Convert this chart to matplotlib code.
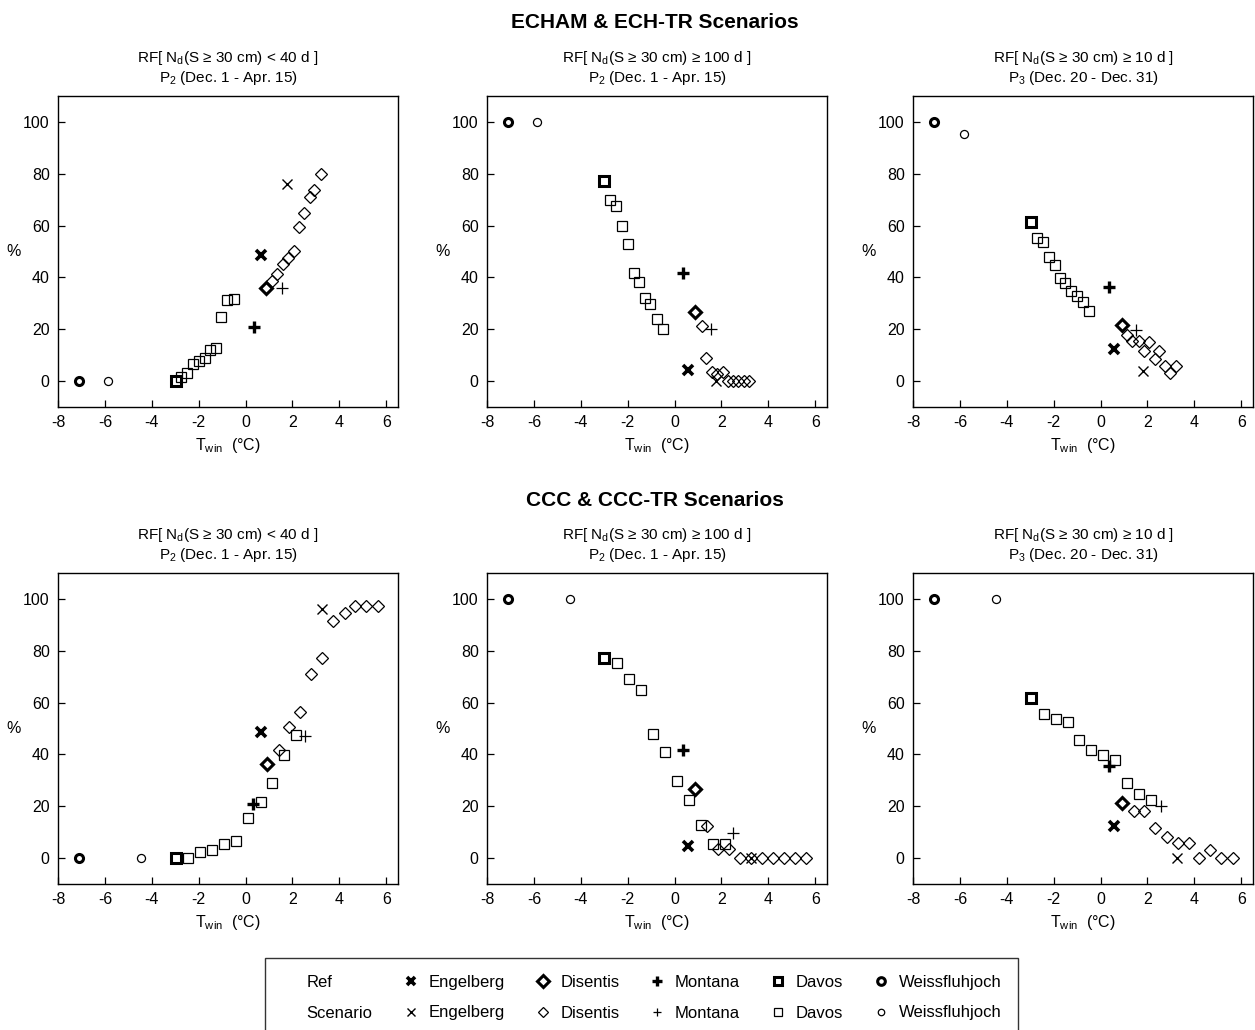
import matplotlib
matplotlib.use("Agg")
import matplotlib.pyplot as plt
from matplotlib.lines import Line2D

plt.rcParams["font.family"] = ["Liberation Sans", "DejaVu Sans"]
plt.rcParams["mathtext.fontset"] = "custom"
plt.rcParams["mathtext.rm"] = "Liberation Sans"
plt.rcParams["mathtext.it"] = "Liberation Sans:italic"
plt.rcParams["mathtext.default"] = "regular"
plt.rcParams["axes.unicode_minus"] = False

STATIONS = ["Engelberg", "Disentis", "Montana", "Davos", "Weissfluhjoch"]

# ---- ECHAM & ECH-TR ----
# a) RF[Nd < 40 d], P2
ea_ref_x = [0.64, 0.88, 0.34, -2.98, -7.12]
ea_ref_y = [48.5, 36.0, 20.8, 0.0, 0.0]
ea_eng_x, ea_eng_y = [1.76], [76.2]
ea_mon_x, ea_mon_y = [1.55], [35.8]
ea_wei_x, ea_wei_y = [-5.87], [0.0]
ea_dav_x = [-2.74, -2.50, -2.24, -1.99, -1.73, -1.53, -1.28, -1.04, -0.78, -0.50]
ea_dav_y = [1.5, 3.2, 6.4, 7.9, 8.8, 12.0, 12.8, 24.8, 31.2, 31.7]
ea_dis_x = [1.14, 1.35, 1.61, 1.82, 2.06, 2.28, 2.47, 2.73, 2.93, 3.20]
ea_dis_y = [38.7, 41.5, 45.0, 47.6, 50.3, 59.6, 65.0, 71.0, 73.7, 79.8]

# b) RF[Nd >= 100 d], P2
eb_ref_x = [0.59, 0.88, 0.36, -3.00, -7.11]
eb_ref_y = [4.2, 26.5, 41.7, 77.1, 100.0]
eb_eng_x, eb_eng_y = [1.75], [0.0]
eb_mon_x, eb_mon_y = [1.54], [20.2]
eb_wei_x, eb_wei_y = [-5.86], [100.0]
eb_dav_x = [-2.76, -2.49, -2.25, -1.99, -1.74, -1.52, -1.27, -1.03, -0.76, -0.50]
eb_dav_y = [69.9, 67.6, 59.8, 52.9, 41.8, 38.2, 32.2, 29.9, 23.9, 20.2]
eb_dis_x = [1.15, 1.33, 1.58, 1.80, 2.06, 2.27, 2.51, 2.72, 2.95, 3.19]
eb_dis_y = [21.4, 9.0, 3.5, 2.8, 3.5, 0.0, 0.0, 0.0, 0.0, 0.0]

# c) RF[Nd >= 10 d], P3
ec_ref_x = [0.58, 0.92, 0.34, -2.95, -7.10]
ec_ref_y = [12.3, 21.5, 36.2, 61.5, 100.0]
ec_eng_x, ec_eng_y = [1.80], [3.8]
ec_mon_x, ec_mon_y = [1.53], [19.7]
ec_wei_x, ec_wei_y = [-5.82], [95.5]
ec_dav_x = [-2.73, -2.47, -2.22, -1.95, -1.71, -1.51, -1.27, -0.99, -0.73, -0.49]
ec_dav_y = [55.4, 53.6, 47.7, 44.9, 39.7, 37.9, 34.6, 32.8, 30.5, 26.9]
ec_dis_x = [1.14, 1.33, 1.65, 1.84, 2.08, 2.30, 2.49, 2.75, 2.95, 3.20]
ec_dis_y = [17.8, 15.3, 15.3, 11.8, 15.1, 8.5, 11.8, 5.8, 3.1, 5.8]

# ---- CCC & CCC-TR ----
ca_ref_x = [0.67, 0.90, 0.30, -2.98, -7.12]
ca_ref_y = [48.7, 36.2, 20.8, 0.0, 0.0]
ca_eng_x, ca_eng_y = [3.26], [96.0]
ca_mon_x, ca_mon_y = [2.53], [47.1]
ca_wei_x, ca_wei_y = [-4.48], [0.0]
ca_dav_x = [-2.44, -1.95, -1.43, -0.91, -0.41, 0.10, 0.64, 1.12, 1.64, 2.13]
ca_dav_y = [0.0, 2.2, 3.2, 5.5, 6.4, 15.3, 21.5, 29.0, 39.6, 47.6]
ca_dis_x = [1.41, 1.86, 2.32, 2.79, 3.28, 3.74, 4.22, 4.68, 5.13, 5.66]
ca_dis_y = [41.7, 50.6, 56.4, 71.2, 77.3, 91.5, 94.7, 97.4, 97.4, 97.4]

cb_ref_x = [0.59, 0.88, 0.36, -3.00, -7.11]
cb_ref_y = [4.5, 26.5, 41.6, 77.2, 100.0]
cb_eng_x, cb_eng_y = [3.25], [0.0]
cb_mon_x, cb_mon_y = [2.51], [9.7]
cb_wei_x, cb_wei_y = [-4.46], [100.0]
cb_dav_x = [-2.45, -1.94, -1.42, -0.91, -0.40, 0.09, 0.60, 1.11, 1.62, 2.13]
cb_dav_y = [75.2, 69.1, 65.0, 47.9, 41.0, 29.8, 22.3, 12.9, 5.5, 5.5]
cb_dis_x = [1.38, 1.86, 2.33, 2.78, 3.25, 3.73, 4.20, 4.67, 5.14, 5.62]
cb_dis_y = [12.2, 3.5, 3.5, 0.0, 0.0, 0.0, 0.0, 0.0, 0.0, 0.0]

cc_ref_x = [0.58, 0.91, 0.34, -2.95, -7.10]
cc_ref_y = [12.3, 21.4, 35.6, 61.7, 100.0]
cc_eng_x, cc_eng_y = [3.27], [0.0]
cc_mon_x, cc_mon_y = [2.58], [20.0]
cc_wei_x, cc_wei_y = [-4.45], [100.0]
cc_dav_x = [-2.41, -1.92, -1.41, -0.90, -0.39, 0.12, 0.63, 1.14, 1.65, 2.16]
cc_dav_y = [55.5, 53.7, 52.6, 45.7, 41.6, 39.9, 38.0, 28.9, 24.6, 22.6]
cc_dis_x = [1.42, 1.87, 2.34, 2.82, 3.30, 3.77, 4.20, 4.67, 5.14, 5.65]
cc_dis_y = [18.0, 18.0, 11.7, 8.3, 5.8, 5.8, 0.0, 3.2, 0.0, 0.0]

TITLE1 = ["RF[ N$_d$(S ≥ 30 cm) < 40 d ]",
          "RF[ N$_d$(S ≥ 30 cm) ≥ 100 d ]",
          "RF[ N$_d$(S ≥ 30 cm) ≥ 10 d ]"]
TITLE2 = ["P$_2$ (Dec. 1 - Apr. 15)",
          "P$_2$ (Dec. 1 - Apr. 15)",
          "P$_3$ (Dec. 20 - Dec. 31)"]
ROW_TITLES = ["ECHAM & ECH-TR Scenarios", "CCC & CCC-TR Scenarios"]

panels = [
    [(ea_ref_x, ea_ref_y, [(ea_eng_x, ea_eng_y), (ea_dis_x, ea_dis_y), (ea_mon_x, ea_mon_y), (ea_dav_x, ea_dav_y), (ea_wei_x, ea_wei_y)]),
     (eb_ref_x, eb_ref_y, [(eb_eng_x, eb_eng_y), (eb_dis_x, eb_dis_y), (eb_mon_x, eb_mon_y), (eb_dav_x, eb_dav_y), (eb_wei_x, eb_wei_y)]),
     (ec_ref_x, ec_ref_y, [(ec_eng_x, ec_eng_y), (ec_dis_x, ec_dis_y), (ec_mon_x, ec_mon_y), (ec_dav_x, ec_dav_y), (ec_wei_x, ec_wei_y)])],
    [(ca_ref_x, ca_ref_y, [(ca_eng_x, ca_eng_y), (ca_dis_x, ca_dis_y), (ca_mon_x, ca_mon_y), (ca_dav_x, ca_dav_y), (ca_wei_x, ca_wei_y)]),
     (cb_ref_x, cb_ref_y, [(cb_eng_x, cb_eng_y), (cb_dis_x, cb_dis_y), (cb_mon_x, cb_mon_y), (cb_dav_x, cb_dav_y), (cb_wei_x, cb_wei_y)]),
     (cc_ref_x, cc_ref_y, [(cc_eng_x, cc_eng_y), (cc_dis_x, cc_dis_y), (cc_mon_x, cc_mon_y), (cc_dav_x, cc_dav_y), (cc_wei_x, cc_wei_y)])],
]

# marker, size, ref edge width, scenario edge width
MK = {"Engelberg": ("x", 6.5, 2.6, 1.0),
      "Disentis": ("D", 6.2, 2.2, 0.9),
      "Montana": ("+", 8.0, 2.4, 0.9),
      "Davos": ("s", 6.8, 2.2, 0.9),
      "Weissfluhjoch": ("o", 5.8, 2.2, 0.9)}

W, H = 1255, 1030
fig = plt.figure(figsize=(W / 100, H / 100), dpi=100)
lefts = [58, 487, 913]
tops = [96, 573]
aw, ah = 340, 311

for r in range(2):
    for c in range(3):
        ax = fig.add_axes([lefts[c] / W, 1 - (tops[r] + ah) / H, aw / W, ah / H])
        rx, ry, scen = panels[r][c]
        for i, st in enumerate(STATIONS):
            m, ms, rw, sw = MK[st]
            sx, sy = scen[i]
            ax.plot(sx, sy, ls="none", marker=m, ms=ms, mew=sw, mec="black", mfc="none", zorder=2)
        for i, st in enumerate(STATIONS):
            m, ms, rw, sw = MK[st]
            ax.plot([rx[i]], [ry[i]], ls="none", marker=m, ms=ms, mew=rw, mec="black", mfc="none", zorder=3)
        ax.set_xlim(-8, 6.5)
        ax.set_ylim(-10, 110)
        ax.set_xticks([-8, -6, -4, -2, 0, 2, 4, 6])
        ax.set_yticks([0, 20, 40, 60, 80, 100])
        ax.tick_params(direction="in", length=5, width=0.9, labelsize=11.5, pad=6)
        for sp in ax.spines.values():
            sp.set_linewidth(1.0)
        ax.set_xlabel("T$_{win}$  (°C)", fontsize=11.5)
        ax.xaxis.set_label_coords(0.5, -0.092)
        ax.set_ylabel("%", fontsize=11.5, rotation=0, ha="center", va="center")
        ax.yaxis.set_label_coords(-0.13, 0.5)
        ax.text(0.5, 1.122, TITLE1[c], transform=ax.transAxes, ha="center", va="center", fontsize=11)
        ax.text(0.5, 1.058, TITLE2[c], transform=ax.transAxes, ha="center", va="center", fontsize=11)

fig.text(655 / W, 1 - 23 / H, ROW_TITLES[0], ha="center", va="center", fontsize=15, fontweight="bold")
fig.text(655 / W, 1 - 500 / H, ROW_TITLES[1], ha="center", va="center", fontsize=15, fontweight="bold")

handles, labels = [], []
blank = Line2D([], [], ls="none")
handles += [blank, blank]
labels += ["Ref", "Scenario"]
for st in STATIONS:
    m, ms, rw, sw = MK[st]
    handles.append(Line2D([], [], ls="none", marker=m, ms=ms * 0.95, mew=rw, mec="black", mfc="none"))
    handles.append(Line2D([], [], ls="none", marker=m, ms=ms * 0.8, mew=sw, mec="black", mfc="none"))
    labels += [st, st]

leg = fig.legend(handles, labels, ncol=6, loc="upper left",
                 bbox_to_anchor=(265 / W, 0, 753 / W, 1 - 958 / H), mode="expand",
                 fontsize=12, frameon=True, fancybox=False, edgecolor="black",
                 handlelength=0.9, handletextpad=0.6, borderpad=1.0, labelspacing=0.95,
                 borderaxespad=0)
leg.get_frame().set_linewidth(1.0)

fig.savefig("out.png", dpi=100)
